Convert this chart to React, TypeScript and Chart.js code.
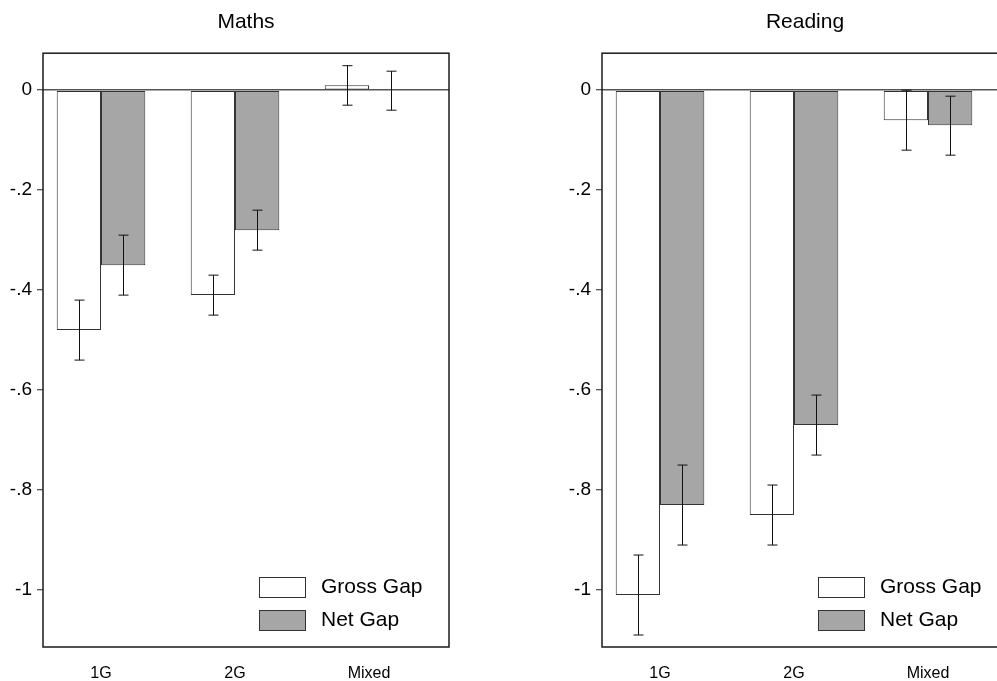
import React, { useEffect, useRef } from "react";
import { Chart, registerables } from "chart.js";

Chart.register(...registerables);

const categories = ["1G", "2G", "Mixed"];
const seriesLabels = ["Gross Gap", "Net Gap"];
const yTicks = [0, -0.2, -0.4, -0.6, -0.8, -1];

const mathsGross = [-0.48, -0.41, 0.01];
const mathsGrossLow = [-0.54, -0.45, -0.03];
const mathsGrossHigh = [-0.42, -0.37, 0.049];
const mathsNet = [-0.35, -0.28, 0.0];
const mathsNetLow = [-0.41, -0.32, -0.04];
const mathsNetHigh = [-0.29, -0.24, 0.038];

const readingGross = [-1.01, -0.85, -0.06];
const readingGrossLow = [-1.09, -0.91, -0.12];
const readingGrossHigh = [-0.93, -0.79, 0.0];
const readingNet = [-0.83, -0.67, -0.07];
const readingNetLow = [-0.91, -0.73, -0.13];
const readingNetHigh = [-0.75, -0.61, -0.012];

const FONT = "'Liberation Sans', Arial, Helvetica, sans-serif";

const errorBarPlugin = {
  id: "errorBars",
  afterDatasetsDraw(chart: any) {
    const ctx = chart.ctx;
    const yScale = chart.scales.y;
    ctx.save();
    ctx.strokeStyle = "#111";
    ctx.lineWidth = 1;
    chart.data.datasets.forEach((ds: any, i: number) => {
      const meta = chart.getDatasetMeta(i);
      meta.data.forEach((el: any, j: number) => {
        const x = Math.round(el.x) + 0.5;
        const yl = yScale.getPixelForValue(ds.errLow[j]);
        const yh = yScale.getPixelForValue(ds.errHigh[j]);
        ctx.beginPath();
        ctx.moveTo(x, yl);
        ctx.lineTo(x, yh);
        ctx.moveTo(x - 5, yl);
        ctx.lineTo(x + 5, yl);
        ctx.moveTo(x - 5, yh);
        ctx.lineTo(x + 5, yh);
        ctx.stroke();
      });
    });
    ctx.restore();
  },
};

const framePlugin = {
  id: "frameLegend",
  afterDraw(chart: any) {
    const ctx = chart.ctx;
    const a = chart.chartArea;
    ctx.save();
    ctx.strokeStyle = "#1a1a1a";
    ctx.lineWidth = 1.5;
    ctx.strokeRect(a.left, a.top, a.right - a.left, a.bottom - a.top);
    const boxW = 46;
    const boxH = 20;
    const rowGap = 33;
    const bx = a.left + 216;
    const firstTop = a.bottom - 17 - boxH - rowGap;
    ctx.font = `21px ${FONT}`;
    ctx.textBaseline = "middle";
    ctx.textAlign = "left";
    chart.data.datasets.forEach((ds: any, i: number) => {
      const top = firstTop + i * rowGap;
      ctx.fillStyle = ds.backgroundColor;
      ctx.fillRect(bx, top, boxW, boxH);
      ctx.strokeStyle = "#333";
      ctx.lineWidth = 1;
      ctx.strokeRect(bx + 0.5, top + 0.5, boxW, boxH);
      ctx.fillStyle = "#000";
      ctx.fillText(ds.label, bx + boxW + 16, top + boxH / 2);
    });
    ctx.restore();
  },
};

function makeConfig(
  title: string,
  gross: number[],
  grossLow: number[],
  grossHigh: number[],
  net: number[],
  netLow: number[],
  netHigh: number[]
): any {
  const toPts = (vals: number[]) => vals.map((v, i) => ({ x: i + 1, y: v }));
  return {
    type: "bar",
    data: {
      datasets: [
        {
          label: seriesLabels[0],
          data: toPts(gross),
          errLow: grossLow,
          errHigh: grossHigh,
          backgroundColor: "#ffffff",
          borderColor: "#333333",
          borderWidth: 1,
          borderSkipped: false,
          categoryPercentage: 0.661,
          barPercentage: 1,
        },
        {
          label: seriesLabels[1],
          data: toPts(net),
          errLow: netLow,
          errHigh: netHigh,
          backgroundColor: "#a6a6a6",
          borderColor: "#333333",
          borderWidth: 1,
          borderSkipped: false,
          categoryPercentage: 0.661,
          barPercentage: 1,
        },
      ],
    },
    options: {
      responsive: false,
      animation: false,
      layout: { padding: { left: 0, right: 57, top: 0, bottom: 0 } },
      plugins: {
        legend: { display: false },
        tooltip: { enabled: false },
        title: {
          display: true,
          text: title,
          fullSize: false,
          color: "#000",
          font: { family: FONT, size: 21, weight: "normal" },
          padding: { top: 10, bottom: 18 },
        },
      },
      scales: {
        x: {
          type: "linear",
          offset: false,
          bounds: "data",
          min: 0.567,
          max: 3.597,
          grid: { display: false, drawTicks: false, offset: false },
          border: { display: false },
          afterBuildTicks: (scale: any) => {
            scale.ticks = categories.map((_, i) => ({ value: i + 1 }));
          },
          afterFit: (scale: any) => {
            scale.height = 34;
          },
          ticks: {
            color: "#000",
            font: { family: FONT, size: 16 },
            padding: 17,
            maxRotation: 0,
            autoSkip: false,
            callback: (v: any) => categories[Math.round(v) - 1] ?? "",
          },
        },
        y: {
          type: "linear",
          min: -1.114,
          max: 0.074,
          border: { display: false },
          grid: {
            color: (c: any) => (c.tick && c.tick.value === 0 ? "#555" : "rgba(0,0,0,0)"),
            tickColor: "#222",
            lineWidth: 1.5,
            tickWidth: 1,
            tickLength: 6,
            drawTicks: true,
          },
          afterBuildTicks: (scale: any) => {
            scale.ticks = yTicks.map((v) => ({ value: v }));
          },
          afterFit: (scale: any) => {
            scale.width = 43;
          },
          ticks: {
            color: "#000",
            padding: 5,
            font: { family: FONT, size: 19 },
            callback: (v: any) => {
              const n = Number(v);
              if (Math.abs(n) < 1e-9) return "0";
              if (Math.abs(Math.abs(n) - 1) < 1e-9) return n < 0 ? "-1" : "1";
              const s = Math.abs(n).toFixed(1).replace(/^0/, "");
              return (n < 0 ? "-" : "") + s;
            },
          },
        },
      },
    },
    plugins: [errorBarPlugin, framePlugin],
  };
}

function Panel(props: { cfg: any; left: number }) {
  const ref = useRef<HTMLCanvasElement | null>(null);
  useEffect(() => {
    if (!ref.current) return;
    const chart = new Chart(ref.current, props.cfg);
    return () => chart.destroy();
  }, []);
  return (
    <canvas
      ref={ref}
      width={506}
      height={681}
      style={{ position: "absolute", left: props.left, top: 0, width: 506, height: 681 }}
    />
  );
}

export default function App() {
  const maths = makeConfig("Maths", mathsGross, mathsGrossLow, mathsGrossHigh, mathsNet, mathsNetLow, mathsNetHigh);
  const reading = makeConfig(
    "Reading",
    readingGross,
    readingGrossLow,
    readingGrossHigh,
    readingNet,
    readingNetLow,
    readingNetHigh
  );
  return (
    <div
      style={{
        position: "absolute",
        left: 0,
        top: 0,
        width: 997,
        height: 681,
        overflow: "hidden",
        background: "#fff",
      }}
    >
      <Panel cfg={maths} left={0} />
      <Panel cfg={reading} left={559} />
    </div>
  );
}
